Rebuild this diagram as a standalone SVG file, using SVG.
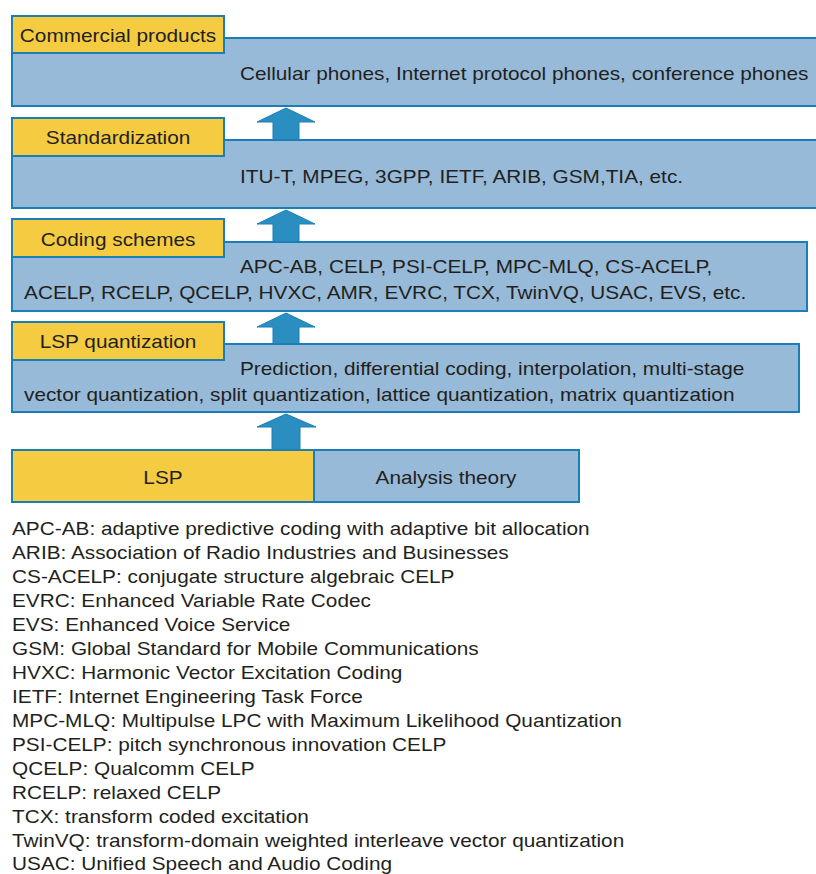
<svg xmlns="http://www.w3.org/2000/svg" width="816" height="874" viewBox="0 0 816 874">
<style>
text{font-family:"Liberation Sans",Arial,sans-serif;font-size:18px;fill:#231f20}
.blue{fill:#96bad8;stroke:#1a7fb6;stroke-width:2}
.yel{fill:#f5cb42;stroke:#1a7fb6;stroke-width:2}
.arr{fill:#2a8fc0;stroke:#1a7fb6;stroke-width:1}
.mid{text-anchor:middle}
</style>
<rect width="816" height="874" fill="#fff"/>
<g id="connectors">
<path class="arr" d="M273,140 V122 H257 L286,108 L315,122 H299 V140 Z"/>
<path class="arr" d="M273,242 V224 H257 L286,210 L315,224 H299 V242 Z"/>
<path class="arr" d="M273,344 V327 H257 L286,313 L315,327 H299 V344 Z"/>
<path class="arr" d="M272,450 V427 H257 L286,414 L316,427 H300 V450 Z"/>
</g>
<g id="commercial">
<rect class="blue" x="12" y="38" width="806" height="68"/>
<rect class="yel" x="12" y="16" width="212" height="37"/>
<g transform="scale(1.155,1)">
<text class="mid" x="102.2" y="42">Commercial products</text>
<text x="207.8" y="80">Cellular phones, Internet protocol phones, conference phones</text>
</g>
</g>
<g id="standardization">
<rect class="blue" x="12" y="140" width="806" height="68"/>
<rect class="yel" x="12" y="118" width="212" height="38"/>
<g transform="scale(1.155,1)">
<text class="mid" x="102.2" y="144">Standardization</text>
<text x="207.8" y="183">ITU-T, MPEG, 3GPP, IETF, ARIB, GSM,TIA, etc.</text>
</g>
</g>
<g id="coding">
<rect class="blue" x="12" y="242" width="795" height="69"/>
<rect class="yel" x="12" y="219" width="212" height="38"/>
<g transform="scale(1.155,1)">
<text class="mid" x="102.2" y="246">Coding schemes</text>
<text x="207.8" y="273">APC-AB, CELP, PSI-CELP, MPC-MLQ, CS-ACELP,</text>
<text x="20.8" y="299">ACELP, RCELP, QCELP, HVXC, AMR, EVRC, TCX, TwinVQ, USAC, EVS, etc.</text>
</g>
</g>
<g id="lspq">
<rect class="blue" x="12" y="344" width="787" height="68"/>
<rect class="yel" x="12" y="322" width="212" height="38"/>
<g transform="scale(1.155,1)">
<text class="mid" x="102.2" y="348">LSP quantization</text>
<text x="207.8" y="375">Prediction, differential coding, interpolation, multi-stage</text>
<text x="20.8" y="401">vector quantization, split quantization, lattice quantization, matrix quantization</text>
</g>
</g>
<g id="lsp">
<rect class="yel" x="12" y="450" width="302" height="52"/>
<text class="mid" x="163" y="484" transform="translate(163,0) scale(1.155,1) translate(-163,0)">LSP</text>
</g>
<g id="analysis">
<rect class="blue" x="314" y="450" width="265" height="52"/>
<text class="mid" x="446" y="484" transform="translate(446,0) scale(1.155,1) translate(-446,0)">Analysis theory</text>
</g>
<g id="legend" transform="scale(1.155,1)">
<text x="10.4" y="535">APC-AB: adaptive predictive coding with adaptive bit allocation</text>
<text x="10.4" y="559">ARIB: Association of Radio Industries and Businesses</text>
<text x="10.4" y="583">CS-ACELP: conjugate structure algebraic CELP</text>
<text x="10.4" y="607">EVRC: Enhanced Variable Rate Codec</text>
<text x="10.4" y="631">EVS: Enhanced Voice Service</text>
<text x="10.4" y="655">GSM: Global Standard for Mobile Communications</text>
<text x="10.4" y="679">HVXC: Harmonic Vector Excitation Coding</text>
<text x="10.4" y="703">IETF: Internet Engineering Task Force</text>
<text x="10.4" y="727">MPC-MLQ: Multipulse LPC with Maximum Likelihood Quantization</text>
<text x="10.4" y="751">PSI-CELP: pitch synchronous innovation CELP</text>
<text x="10.4" y="775">QCELP: Qualcomm CELP</text>
<text x="10.4" y="799">RCELP: relaxed CELP</text>
<text x="10.4" y="823">TCX: transform coded excitation</text>
<text x="10.4" y="847">TwinVQ: transform-domain weighted interleave vector quantization</text>
<text x="10.4" y="870">USAC: Unified Speech and Audio Coding</text>
</g>
</svg>
